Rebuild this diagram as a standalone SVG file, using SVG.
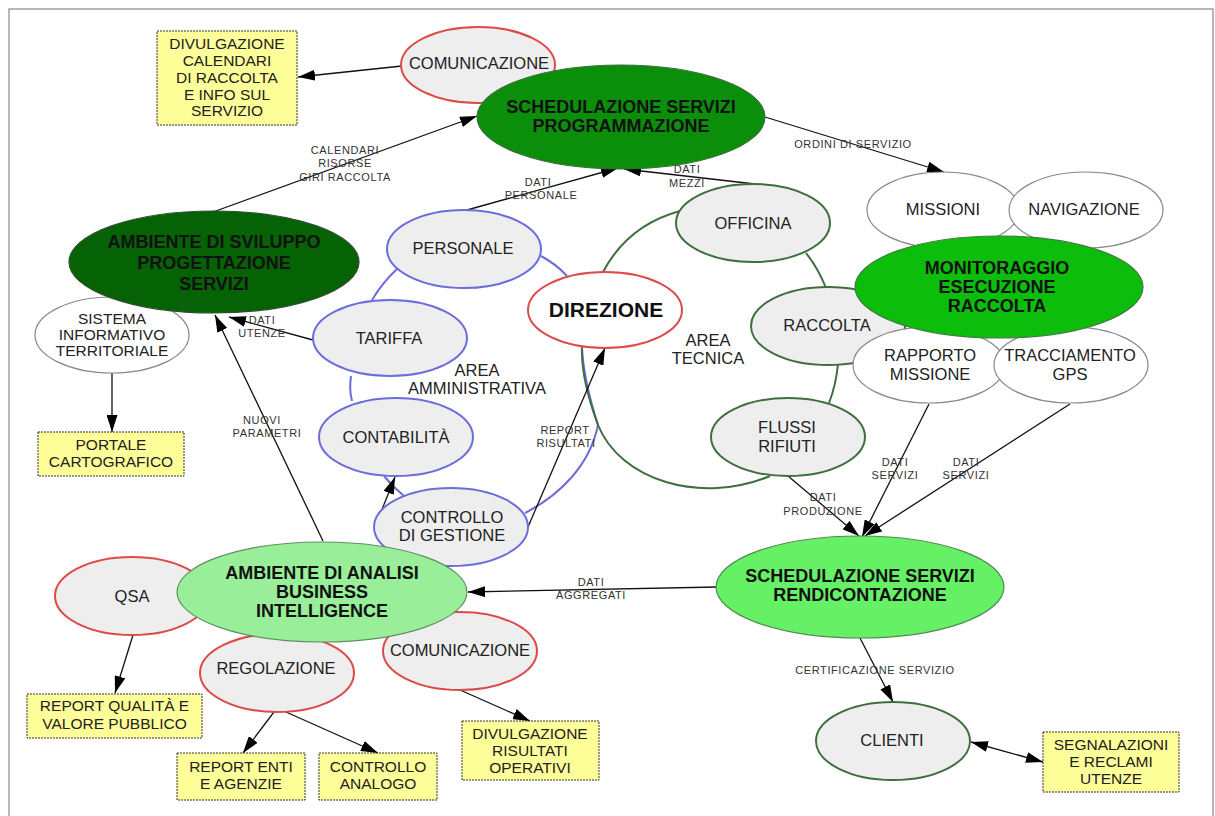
<svg xmlns="http://www.w3.org/2000/svg" width="1215" height="816" viewBox="0 0 1215 816">
<style>
text{font-family:"Liberation Sans",Arial,sans-serif;fill:#222;text-anchor:middle}
.t{font-size:16.5px}
.ts{font-size:15.5px}
.b{font-size:18px;font-weight:bold;fill:#111}
.el{font-size:11px;letter-spacing:0.6px;fill:#333}
.e{stroke:#111;stroke-width:1.3;fill:none;marker-end:url(#ah)}
.red{fill:#eeeeee;stroke:#dd4a4a;stroke-width:2}
.blue{fill:#eeeeee;stroke:#6c6cdc;stroke-width:2}
.grn{fill:#eeeeee;stroke:#3f6e3f;stroke-width:2}
.wht{fill:#ffffff;stroke:#8a8a8a;stroke-width:1.2}
.box{fill:#ffff99;stroke:#333;stroke-width:1;stroke-dasharray:2 1}
.ba{fill:none;stroke:#6c6cdc;stroke-width:2}
.ga{fill:none;stroke:#3f6e3f;stroke-width:2}
</style>
<defs>
<marker id="ah" viewBox="0 0 17 11" markerWidth="17" markerHeight="11" refX="17" refY="5.5" orient="auto-start-reverse" markerUnits="userSpaceOnUse">
<path d="M0,0 L17,5.5 L0,11 z" fill="#000"/>
</marker>
</defs>
<rect x="9" y="9" width="1204" height="830" fill="#fff" stroke="#888" stroke-width="1.2"/>

<g id="connectors">
<path class="ba" d="M541,256 Q556,264 567,276"/>
<path class="ba" d="M397,269 Q382,283 372,300"/>
<path class="ba" d="M351,376 Q349,390 352,401"/>
<path class="ba" d="M384,476 Q393,487 404,496"/>
<path class="ba" d="M525,513 C560,495 590,465 598,425 C590,400 583,372 582,347"/>
<path class="ga" d="M603,272 Q628,225 680,211"/>
<path class="ga" d="M806,253 Q818,268 826,288"/>
<path class="ga" d="M838,364 Q836,385 829,403"/>
<path class="ga" d="M770,476 C700,505 620,480 598,425 C588,398 581,372 582,347"/>

<line class="e" x1="402" y1="66" x2="298" y2="77"/>
<line class="e" x1="213" y1="212" x2="477" y2="116"/>
<line class="e" x1="467" y1="210" x2="618" y2="168"/>
<line class="e" x1="755" y1="184" x2="624" y2="169"/>
<line class="e" x1="765" y1="117" x2="944" y2="172"/>
<line class="e" x1="313" y1="340" x2="229" y2="317"/>
<line class="e" x1="112" y1="373" x2="112" y2="432"/>
<line class="e" x1="323" y1="541" x2="215" y2="315"/>
<line class="e" x1="375" y1="527" x2="395" y2="477"/>
<line class="e" x1="528" y1="527" x2="605" y2="348"/>
<line class="e" x1="788" y1="476" x2="859" y2="536"/>
<line class="e" x1="929" y1="404" x2="862" y2="537"/>
<line class="e" x1="1070" y1="404" x2="865" y2="536"/>
<line class="e" x1="717" y1="587" x2="468" y2="592"/>
<line class="e" x1="860" y1="638" x2="893" y2="702"/>
<line class="e" x1="971" y1="742" x2="1043" y2="762" style="marker-start:url(#ah)"/>
<line class="e" x1="133" y1="635" x2="115" y2="693"/>
<line class="e" x1="277" y1="708" x2="243" y2="753"/>
<line class="e" x1="277" y1="708" x2="378" y2="753"/>
<line class="e" x1="460" y1="690" x2="530" y2="721"/>

<text class="el" x="345" y="154">CALENDARI</text>
<text class="el" x="345" y="167">RISORSE</text>
<text class="el" x="345" y="181">GIRI RACCOLTA</text>
<text class="el" x="538" y="186">DATI</text>
<text class="el" x="541" y="199">PERSONALE</text>
<text class="el" x="687" y="173">DATI</text>
<text class="el" x="687" y="187">MEZZI</text>
<text class="el" x="853" y="148">ORDINI DI SERVIZIO</text>
<text class="el" x="262" y="324">DATI</text>
<text class="el" x="262" y="337">UTENZE</text>
<text class="el" x="262" y="424">NUOVI</text>
<text class="el" x="267" y="437">PARAMETRI</text>
<text class="el" x="565" y="434">REPORT</text>
<text class="el" x="566" y="447">RISULTATI</text>
<text class="el" x="823" y="501">DATI</text>
<text class="el" x="823" y="515">PRODUZIONE</text>
<text class="el" x="895" y="466">DATI</text>
<text class="el" x="895" y="479">SERVIZI</text>
<text class="el" x="966" y="466">DATI</text>
<text class="el" x="966" y="479">SERVIZI</text>
<text class="el" x="591" y="586">DATI</text>
<text class="el" x="591" y="599">AGGREGATI</text>
<text class="el" x="875" y="674">CERTIFICAZIONE SERVIZIO</text>
</g>

<g id="divulgazione-calendari">
<rect class="box" x="157" y="31" width="140" height="94"/>
<text class="ts" x="227" y="49">DIVULGAZIONE</text>
<text class="ts" x="227" y="66">CALENDARI</text>
<text class="ts" x="227" y="83">DI RACCOLTA</text>
<text class="ts" x="227" y="99.5">E INFO SUL</text>
<text class="ts" x="227" y="116">SERVIZIO</text>
</g>
<g id="comunicazione-top">
<ellipse class="red" cx="478" cy="65" rx="77" ry="38"/>
<text class="t" x="479" y="69">COMUNICAZIONE</text>
</g>
<g id="schedulazione-programmazione">
<ellipse cx="621" cy="117" rx="144" ry="52" fill="#0b8f0b" stroke="#3d6e3d" stroke-width="1.2"/>
<text class="b" x="621" y="112.5">SCHEDULAZIONE SERVIZI</text>
<text class="b" x="621" y="132">PROGRAMMAZIONE</text>
</g>
<g id="sistema-informativo">
<ellipse class="wht" cx="112" cy="335" rx="77" ry="38"/>
<text class="ts" x="112" y="323.5">SISTEMA</text>
<text class="ts" x="112" y="339.5">INFORMATIVO</text>
<text class="ts" x="112" y="355.5">TERRITORIALE</text>
</g>
<g id="ambiente-sviluppo">
<ellipse cx="214" cy="262" rx="145" ry="51" fill="#056205" stroke="#2f4f2f" stroke-width="1.2"/>
<text class="b" x="214" y="247.5">AMBIENTE DI SVILUPPO</text>
<text class="b" x="214" y="268.5">PROGETTAZIONE</text>
<text class="b" x="214" y="289.5">SERVIZI</text>
</g>
<g id="portale-cartografico">
<rect class="box" x="38" y="432" width="146" height="44"/>
<text class="ts" x="111" y="449.5">PORTALE</text>
<text class="ts" x="111" y="466.5">CARTOGRAFICO</text>
</g>
<g id="personale">
<ellipse class="blue" cx="464" cy="249" rx="77" ry="39"/>
<text class="t" x="463" y="254">PERSONALE</text>
</g>
<g id="tariffa">
<ellipse class="blue" cx="390" cy="338" rx="77" ry="38"/>
<text class="t" x="389" y="344">TARIFFA</text>
</g>
<g id="contabilita">
<ellipse class="blue" cx="396" cy="437" rx="77" ry="39"/>
<text class="t" x="396" y="443">CONTABILITÀ</text>
</g>
<g id="controllo-gestione">
<ellipse class="blue" cx="451" cy="527" rx="77" ry="39"/>
<text class="t" x="452" y="523">CONTROLLO</text>
<text class="t" x="452" y="541">DI GESTIONE</text>
</g>
<g id="area-amministrativa">
<text class="t" x="477" y="376">AREA</text>
<text class="t" x="477" y="394">AMMINISTRATIVA</text>
</g>
<g id="direzione">
<ellipse cx="605" cy="310" rx="77" ry="38" fill="#fff" stroke="#dd4a4a" stroke-width="2"/>
<text x="606" y="317" style="font-size:21px;font-weight:bold;fill:#111">DIREZIONE</text>
</g>
<g id="area-tecnica">
<text class="t" x="708" y="346">AREA</text>
<text class="t" x="708" y="364">TECNICA</text>
</g>
<g id="officina">
<ellipse class="grn" cx="753" cy="223" rx="77" ry="39"/>
<text class="t" x="753" y="229">OFFICINA</text>
</g>
<g id="raccolta">
<ellipse class="grn" cx="828" cy="326" rx="77" ry="39"/>
<text class="t" x="827" y="331">RACCOLTA</text>
</g>
<g id="flussi-rifiuti">
<ellipse class="grn" cx="788" cy="437" rx="77" ry="39"/>
<text class="t" x="787" y="433">FLUSSI</text>
<text class="t" x="787" y="452">RIFIUTI</text>
</g>
<g id="missioni">
<ellipse class="wht" cx="943" cy="210" rx="76" ry="38"/>
<text class="t" x="943" y="215">MISSIONI</text>
</g>
<g id="navigazione">
<ellipse class="wht" cx="1086" cy="210" rx="77" ry="38"/>
<text class="t" x="1084" y="215">NAVIGAZIONE</text>
</g>
<g id="rapporto-missione">
<ellipse class="wht" cx="929" cy="365" rx="76" ry="38"/>
<text class="t" x="930" y="361">RAPPORTO</text>
<text class="t" x="930" y="380">MISSIONE</text>
</g>
<g id="tracciamento-gps">
<ellipse class="wht" cx="1071" cy="365" rx="77" ry="38"/>
<text class="t" x="1070" y="361">TRACCIAMENTO</text>
<text class="t" x="1070" y="380">GPS</text>
</g>
<g id="monitoraggio">
<ellipse cx="999" cy="287" rx="144" ry="51" fill="#0cbd0c" stroke="#3d7a3d" stroke-width="1.2"/>
<text class="b" x="997" y="274">MONITORAGGIO</text>
<text class="b" x="997" y="293">ESECUZIONE</text>
<text class="b" x="997" y="312">RACCOLTA</text>
</g>
<g id="schedulazione-rendicontazione">
<ellipse cx="860" cy="587" rx="144" ry="51" fill="#66f066" stroke="#4f8a4f" stroke-width="1.2"/>
<text class="b" x="860" y="582">SCHEDULAZIONE SERVIZI</text>
<text class="b" x="860" y="601">RENDICONTAZIONE</text>
</g>
<g id="clienti">
<ellipse class="grn" cx="893" cy="741" rx="77" ry="39"/>
<text class="t" x="892" y="746">CLIENTI</text>
</g>
<g id="segnalazioni">
<rect class="box" x="1043" y="732" width="136" height="60"/>
<text class="ts" x="1111" y="749.5">SEGNALAZIONI</text>
<text class="ts" x="1111" y="766.5">E RECLAMI</text>
<text class="ts" x="1111" y="783.5">UTENZE</text>
</g>
<g id="qsa">
<ellipse class="red" cx="132" cy="596" rx="77" ry="39"/>
<text class="t" x="132" y="602">QSA</text>
</g>
<g id="regolazione">
<ellipse class="red" cx="277" cy="673" rx="77" ry="39"/>
<text class="t" x="276" y="674">REGOLAZIONE</text>
</g>
<g id="comunicazione-bottom">
<ellipse class="red" cx="460" cy="651" rx="77" ry="39"/>
<text class="t" x="460" y="656">COMUNICAZIONE</text>
</g>
<g id="ambiente-analisi">
<ellipse cx="322" cy="592" rx="145" ry="50" fill="#99ee99" stroke="#5f8f5f" stroke-width="1.2"/>
<text class="b" x="322" y="579">AMBIENTE DI ANALISI</text>
<text class="b" x="322" y="598">BUSINESS</text>
<text class="b" x="322" y="617">INTELLIGENCE</text>
</g>
<g id="report-qualita">
<rect class="box" x="27" y="694" width="175" height="44"/>
<text class="ts" x="114.5" y="710.5">REPORT QUALITÀ E</text>
<text class="ts" x="114.5" y="728.5">VALORE PUBBLICO</text>
</g>
<g id="report-enti">
<rect class="box" x="177" y="753" width="128" height="47"/>
<text class="ts" x="241" y="772">REPORT ENTI</text>
<text class="ts" x="241" y="788.5">E AGENZIE</text>
</g>
<g id="controllo-analogo">
<rect class="box" x="319" y="753" width="118" height="47"/>
<text class="ts" x="378" y="772">CONTROLLO</text>
<text class="ts" x="378" y="788.5">ANALOGO</text>
</g>
<g id="divulgazione-risultati">
<rect class="box" x="462" y="721" width="137" height="59"/>
<text class="ts" x="530" y="738.5">DIVULGAZIONE</text>
<text class="ts" x="530" y="755.5">RISULTATI</text>
<text class="ts" x="530" y="772.5">OPERATIVI</text>
</g>
</svg>
